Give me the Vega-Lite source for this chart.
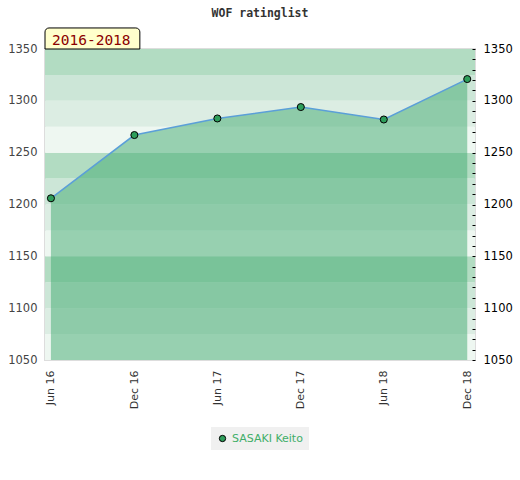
{
  "$schema": "https://vega.github.io/schema/vega-lite/v6.json",
  "autosize": "none",
  "width": 430,
  "height": 311,
  "padding": {"left": 45, "top": 49, "right": 45, "bottom": 120},
  "background": "white",
  "title": {
    "text": "WOF ratinglist",
    "font": "DejaVu Sans Mono",
    "fontSize": 11.5,
    "fontWeight": "bold",
    "color": "#333333",
    "anchor": "middle",
    "frame": "group",
    "offset": 8
  },
  "config": {
    "view": {"stroke": "#dddddd", "strokeWidth": 2},
    "axis": {"labelFont": "DejaVu Sans", "labelFontSize": 11.5, "title": null},
    "axisX": {
      "labelExpr": "utcFormat(datum.value, '%b %y')",
      "labelAngle": -90, "labelFontSize": 11, "labelColor": "#333333",
      "ticks": false, "domain": false, "grid": false, "labelPadding": 10
    },
    "legend": {"layout": {"bottom": {"anchor": "middle"}}}
  },
  "datasets": {
    "ratings": [
      {"date": "2016-06-01", "rating": 1206, "player": "SASAKI Keito"},
      {"date": "2016-12-01", "rating": 1267, "player": "SASAKI Keito"},
      {"date": "2017-06-01", "rating": 1283, "player": "SASAKI Keito"},
      {"date": "2017-12-01", "rating": 1294, "player": "SASAKI Keito"},
      {"date": "2018-06-01", "rating": 1282, "player": "SASAKI Keito"},
      {"date": "2018-12-01", "rating": 1321, "player": "SASAKI Keito"}
    ],
    "bands": [
      {"lo": 1050, "hi": 1075, "shade": "d"},
      {"lo": 1075, "hi": 1100, "shade": "c"},
      {"lo": 1100, "hi": 1125, "shade": "b"},
      {"lo": 1125, "hi": 1150, "shade": "a"},
      {"lo": 1150, "hi": 1175, "shade": "d"},
      {"lo": 1175, "hi": 1200, "shade": "c"},
      {"lo": 1200, "hi": 1225, "shade": "b"},
      {"lo": 1225, "hi": 1250, "shade": "a"},
      {"lo": 1250, "hi": 1275, "shade": "d"},
      {"lo": 1275, "hi": 1300, "shade": "c"},
      {"lo": 1300, "hi": 1325, "shade": "b"},
      {"lo": 1325, "hi": 1350, "shade": "a"}
    ],
    "period": [{"label": "2016-2018"}]
  },
  "layer": [
    {
      "data": {"name": "bands"},
      "mark": "rect",
      "encoding": {
        "y": {
          "field": "lo", "type": "quantitative",
          "scale": {"domain": [1050, 1350], "zero": false, "nice": false},
          "axis": {
            "orient": "left", "format": "d",
            "values": [1050, 1100, 1150, 1200, 1250, 1300, 1350],
            "ticks": false, "domain": false, "grid": false,
            "labelColor": "#444444", "labelPadding": 8
          }
        },
        "y2": {"field": "hi"},
        "fill": {
          "field": "shade", "type": "nominal", "legend": null,
          "scale": {"domain": ["a", "b", "c", "d"], "range": ["#b2dcc2", "#cce6d7", "#dcede3", "#eef7f1"]}
        }
      }
    },
    {
      "data": {"name": "ratings"},
      "mark": {"type": "area", "color": "#40aa70", "fillOpacity": 0.5},
      "encoding": {
        "x": {
          "field": "date", "type": "temporal",
          "scale": {"type": "utc", "domain": [{"year": 2016, "month": 5, "date": 19, "utc": true}, {"year": 2018, "month": 12, "date": 18, "utc": true}]},
          "axis": {
            "values": [
              {"year": 2016, "month": 6, "date": 1, "utc": true},
              {"year": 2016, "month": 12, "date": 1, "utc": true},
              {"year": 2017, "month": 6, "date": 1, "utc": true},
              {"year": 2017, "month": 12, "date": 1, "utc": true},
              {"year": 2018, "month": 6, "date": 1, "utc": true},
              {"year": 2018, "month": 12, "date": 1, "utc": true}
            ]
          }
        },
        "y": {"field": "rating", "type": "quantitative", "scale": {"domain": [1050, 1350], "zero": false, "nice": false}, "axis": null},
        "y2": {"datum": 1050}
      }
    },
    {
      "data": {"name": "ratings"},
      "transform": [{"filter": {"field": "date", "oneOf": ["2016-06-01", "2018-12-01"]}}],
      "mark": {"type": "rule", "color": "#3a9a5a", "strokeWidth": 1},
      "encoding": {
        "x": {"field": "date", "type": "temporal"},
        "y": {"field": "rating", "type": "quantitative", "axis": null},
        "y2": {"datum": 1050}
      }
    },
    {
      "data": {"name": "ratings"},
      "mark": {"type": "line", "color": "#5b9fd8", "strokeWidth": 1.5},
      "encoding": {
        "x": {"field": "date", "type": "temporal"},
        "y": {"field": "rating", "type": "quantitative", "axis": null}
      }
    },
    {
      "data": {"name": "ratings"},
      "mark": {"type": "point", "filled": true, "opacity": 1, "stroke": "#000000", "strokeWidth": 1, "size": 50},
      "encoding": {
        "x": {"field": "date", "type": "temporal"},
        "y": {
          "field": "rating", "type": "quantitative",
          "axis": {
            "orient": "right", "offset": -3, "zindex": 1,
            "values": [1050, 1060, 1070, 1080, 1090, 1100, 1110, 1120, 1130, 1140, 1150, 1160, 1170, 1180, 1190, 1200, 1210, 1220, 1230, 1240, 1250, 1260, 1270, 1280, 1290, 1300, 1310, 1320, 1330, 1340, 1350],
            "labelExpr": "datum.value % 50 === 0 ? format(datum.value, 'd') : ''",
            "tickSize": 3, "tickColor": "#000000", "domain": false, "grid": false,
            "labelColor": "#000000", "labelPadding": 8
          }
        },
        "color": {
          "field": "player", "type": "nominal",
          "scale": {"range": ["#2e9e5b"]},
          "legend": {
            "orient": "bottom", "title": null, "offset": 18,
            "fillColor": "#f0f0f0", "padding": 6,
            "labelColor": "#3fae68", "labelFont": "DejaVu Sans", "labelFontSize": 11,
            "symbolType": "circle", "symbolSize": 40,
            "symbolStrokeColor": "#000000", "symbolStrokeWidth": 1
          }
        }
      }
    },
    {
      "data": {"name": "period"},
      "mark": {"type": "rect", "fill": "#ffffcc", "stroke": "#000000", "strokeWidth": 1, "cornerRadiusTopLeft": 4, "cornerRadiusTopRight": 4},
      "encoding": {
        "x": {"datum": {"year": 2016, "month": 5, "date": 19, "utc": true}, "type": "temporal"},
        "x2": {"datum": {"year": 2016, "month": 12, "date": 13, "utc": true}},
        "y": {"datum": 1350, "type": "quantitative", "axis": null},
        "y2": {"datum": 1370.3}
      }
    },
    {
      "data": {"name": "period"},
      "mark": {"type": "text", "font": "DejaVu Sans Mono", "fontSize": 14.5, "color": "#8b0000", "align": "left", "baseline": "alphabetic", "dx": 7, "dy": -4},
      "encoding": {
        "x": {"datum": {"year": 2016, "month": 5, "date": 19, "utc": true}, "type": "temporal"},
        "y": {"datum": 1350, "type": "quantitative", "axis": null},
        "text": {"field": "label"}
      }
    }
  ],
  "resolve": {"axis": {"y": "independent"}}
}
